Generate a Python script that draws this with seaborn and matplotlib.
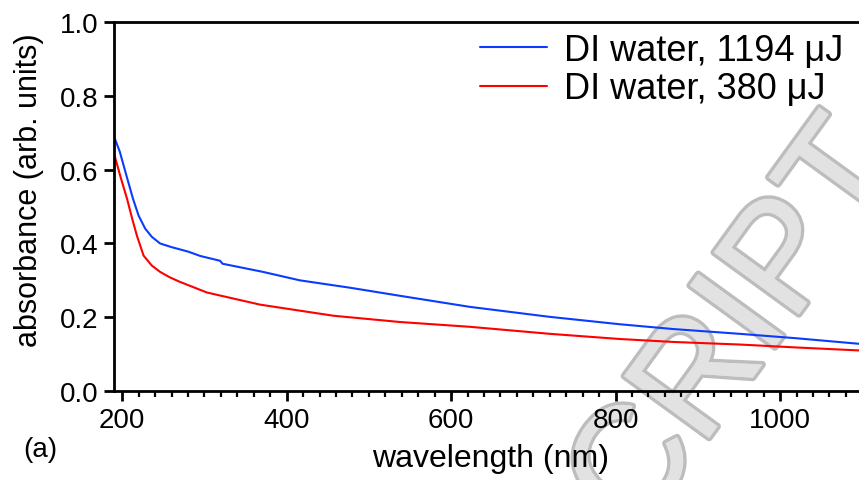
import pandas as pd
import matplotlib
matplotlib.use('Agg')
import matplotlib.pyplot as plt
import matplotlib.patheffects as pe
from matplotlib.ticker import MultipleLocator, FormatStrFormatter
import seaborn as sns

# absorbance spectra
wl_hi = [190, 197, 205, 213, 220, 228, 236, 246, 260, 280, 295, 319, 322, 371, 416,
         477, 538, 623, 720, 805, 870, 951, 1020, 1096]
abs_hi = [0.690, 0.649, 0.585, 0.522, 0.475, 0.440, 0.418, 0.400, 0.390, 0.378,
          0.366, 0.353, 0.345, 0.323, 0.300, 0.280, 0.258, 0.228, 0.201, 0.181,
          0.168, 0.155, 0.143, 0.128]

wl_lo = [190, 198, 206, 212, 218, 226, 236, 246, 258, 270, 303, 368, 457, 538, 623,
         720, 805, 870, 951, 1020, 1096]
abs_lo = [0.644, 0.580, 0.520, 0.468, 0.420, 0.367, 0.340, 0.323, 0.308, 0.296,
          0.267, 0.234, 0.204, 0.187, 0.174, 0.155, 0.141, 0.133, 0.126, 0.118, 0.110]

labels = ['DI water, 1194 μJ', 'DI water, 380 μJ']
colors = ['#0a3cff', '#ff0000']

df = pd.concat([
    pd.DataFrame({'wavelength': wl_hi, 'absorbance': abs_hi, 'sample': labels[0]}),
    pd.DataFrame({'wavelength': wl_lo, 'absorbance': abs_lo, 'sample': labels[1]}),
])

sns.set_style('ticks')
plt.rcParams['font.family'] = ['Liberation Sans', 'DejaVu Sans']
plt.rcParams['text.color'] = 'black'
plt.rcParams['axes.labelcolor'] = 'black'

fig = plt.figure(figsize=(8.59, 4.81), dpi=100)
ax = fig.add_axes([0.1327, 0.185, 0.8673, 0.767])
ax.patch.set_alpha(0)  # let the watermark show behind the plot

sns.lineplot(data=df, x='wavelength', y='absorbance', hue='sample',
             palette=colors, linewidth=1.5, ax=ax, estimator=None, sort=False)

ax.set_xlim(190, 1096)
ax.set_ylim(0, 1.0)
ax.xaxis.set_major_locator(MultipleLocator(200))
ax.xaxis.set_minor_locator(MultipleLocator(20))
ax.yaxis.set_major_locator(MultipleLocator(0.2))
ax.yaxis.set_major_formatter(FormatStrFormatter('%.1f'))

for s in ['left', 'bottom', 'top']:
    ax.spines[s].set_linewidth(2.0)
    ax.spines[s].set_color('black')
ax.spines['right'].set_visible(False)

ax.tick_params(which='major', direction='out', length=7.5, width=2.0,
               labelsize=20, colors='black', labelcolor='black', pad=4)
ax.tick_params(which='minor', axis='x', direction='out', length=4, width=1.6,
               colors='black')

ax.set_xlabel('wavelength (nm)', fontsize=23, color='black')
ax.set_ylabel('absorbance (arb. units)', fontsize=22, color='black')
ax.xaxis.set_label_coords(0.505, -0.14)
ax.yaxis.set_label_coords(-0.094, 0.547)

leg = ax.legend(frameon=False, fontsize=26, handlelength=1.86, handletextpad=0.47,
                labelspacing=0.1, loc='upper right',
                bbox_to_anchor=(0.982, 0.93), bbox_transform=fig.transFigure,
                borderaxespad=0, borderpad=0)
for line in leg.get_lines():
    line.set_linewidth(1.5)
for t in leg.get_texts():
    t.set_color('black')

fig.text(0.027, 0.05, '(a)', fontsize=20, color='black')

# watermark left over from the manuscript copy, drawn behind the axes
fig.text(0.8615, 0.314, 'CRIPT', fontsize=110, rotation=54, ha='center', va='center',
         rotation_mode='anchor', color='#e2e2e2', zorder=-1,
         path_effects=[pe.withStroke(linewidth=5, foreground='#bdbdbd'),
                       pe.Normal()])

fig.savefig('out.png', dpi=100)
